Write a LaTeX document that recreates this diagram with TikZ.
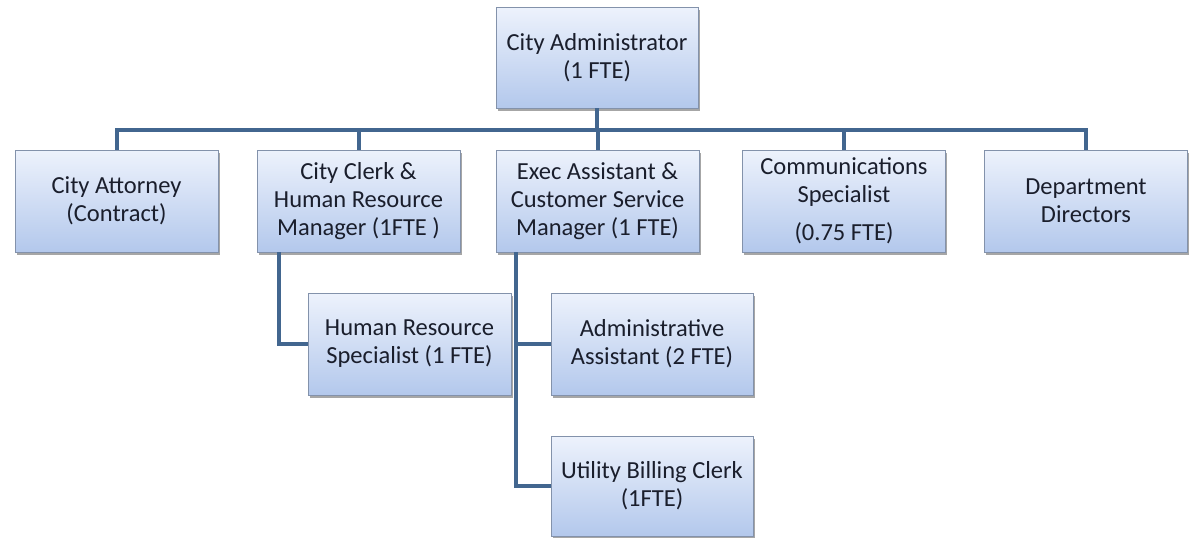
\documentclass[tikz,border=0pt]{standalone}
\usepackage{fontspec}
\setmainfont{Carlito}
\usetikzlibrary{calc,shadows}
\definecolor{boxtop}{HTML}{EDF2FC}
\definecolor{boxbot}{HTML}{B3C8EC}
\definecolor{boxline}{HTML}{8392AB}
\definecolor{linkcol}{HTML}{42668F}
\definecolor{txt}{HTML}{1A1E2C}
\tikzset{
  orgbox/.style={rectangle, draw=boxline, line width=0.8pt,
    top color=boxtop, bottom color=boxbot,
    minimum width=203pt, minimum height=102pt, inner sep=0pt,
    align=center, text=txt,
    font=\fontsize{24.5}{28}\selectfont,
    drop shadow={shadow xshift=1.5pt, shadow yshift=-3pt, fill=black, opacity=0.35}},
  link/.style={draw=linkcol, line width=4pt}
}
\begin{document}
\begin{tikzpicture}[x=1pt,y=-1pt]
\useasboundingbox (0,0) rectangle (1195,538);

% top level
\node[orgbox, minimum width=202pt, minimum height=101pt] (admin) at (597,57.5) {City Administrator\\(1 FTE)};

% direct reports
\node[orgbox] (attorney) at (116.5,201) {City Attorney\\(Contract)};
\node[orgbox] (clerk) at (358.5,201) {City Clerk \&\\Human Resource\\Manager (1FTE )};
\node[orgbox] (exec) at (597.5,201) {Exec Assistant \&\\Customer Service\\Manager (1 FTE)};
\node[orgbox] (comms) at (844,201) {Communications\\Specialist\\[10pt](0.75 FTE)};
\node[orgbox] (dept) at (1086,201) {Department\\Directors};

% second level
\node[orgbox] (hrs) at (409.5,344) {Human Resource\\Specialist (1 FTE)};
\node[orgbox, minimum width=202pt] (aa) at (652,344) {Administrative\\Assistant (2 FTE)};
\node[orgbox, minimum width=202pt, minimum height=100pt] (ubc) at (652,486) {Utility Billing Clerk\\(1FTE)};

% connectors
\coordinate (bus) at (0,130);
\draw[link] (admin.south) -- (admin.south |- bus);
\draw[link] (attorney.north) -- (attorney.north |- bus) -- (dept.north |- bus) -- (dept.north);
\draw[link] (clerk.north) -- (clerk.north |- bus);
\draw[link] (exec.north) -- (exec.north |- bus);
\draw[link] (comms.north) -- (comms.north |- bus);

\coordinate (clerkleg) at ($(clerk.south west)+(22,0)$);
\coordinate (execleg) at ($(exec.south west)+(20,0)$);
\draw[link] (clerkleg) |- (hrs.west);
\draw[link] (execleg) |- (ubc.west);
\draw[link] (execleg |- aa.west) -- (aa.west);
\end{tikzpicture}
\end{document}
